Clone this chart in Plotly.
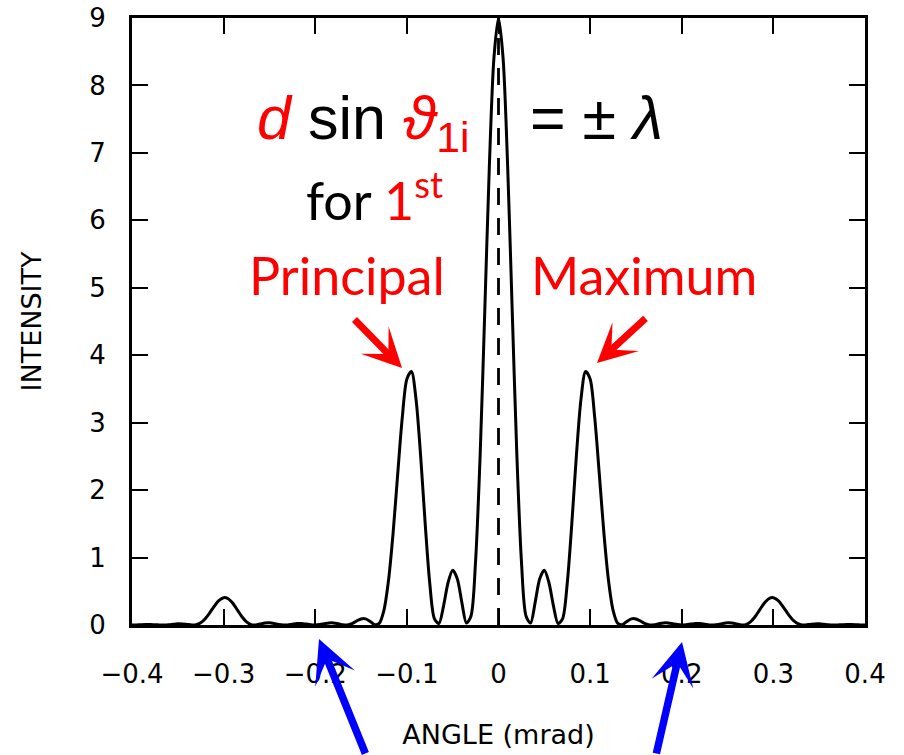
import plotly.graph_objects as go

# ---------------- data ----------------
angle_step = 0.005  # mrad between samples
# intensity for angles 0.000 ... 0.400 mrad (curve is symmetric about 0)
intensity_right = [
    9.000, 8.405, 6.798, 4.646, 2.533, 0.950, 0.135, 0.028, 0.334, 0.687,
    0.811, 0.630, 0.281, 0.022, 0.096, 0.615, 1.500, 2.510, 3.346, 3.759,
    3.648, 3.077, 2.240, 1.371, 0.667, 0.221, 0.028, 0.005, 0.052, 0.091,
    0.090, 0.058, 0.021, 0.001, 0.004, 0.019, 0.031, 0.031, 0.019, 0.006,
    0.000, 0.005, 0.015, 0.023, 0.021, 0.012, 0.002, 0.001, 0.009, 0.023,
    0.032, 0.029, 0.015, 0.001, 0.006, 0.046, 0.122, 0.223, 0.322, 0.390,
    0.405, 0.365, 0.282, 0.183, 0.094, 0.033, 0.004, 0.001, 0.009, 0.016,
    0.017, 0.011, 0.004, 0.000, 0.001, 0.004, 0.007, 0.007, 0.005, 0.001,
    0.000,
]
angles_right = [round(i * angle_step, 3) for i in range(len(intensity_right))]
angles = [-a for a in angles_right[:0:-1]] + angles_right
intensity = intensity_right[:0:-1] + intensity_right

center_angle = 0.0
x_tickvals = [-0.4, -0.3, -0.2, -0.1, 0.0, 0.1, 0.2, 0.3, 0.4]
x_ticktext = ["\u22120.4", "\u22120.3", "\u22120.2", "\u22120.1", "0", "0.1", "0.2", "0.3", "0.4"]
y_tickvals = [0, 1, 2, 3, 4, 5, 6, 7, 8, 9]
y_ticktext = [str(v) for v in y_tickvals]

RED = "#ff0000"
BLUE = "#0000ff"

fig = go.Figure()
fig.add_trace(go.Scatter(
    x=angles, y=intensity, mode="lines",
    line=dict(color="black", width=3, shape="spline", smoothing=0.8),
    hoverinfo="skip",
))
fig.add_vline(x=center_angle, line=dict(color="black", width=2.8, dash="17px,13px"))

axis_font = dict(family="DejaVu Sans", size=26, color="black")
title_font = dict(family="DejaVu Sans", size=27, color="black")

fig.update_layout(
    width=904, height=755,
    margin=dict(l=132, r=39, t=18, b=130),
    plot_bgcolor="white", paper_bgcolor="white",
    showlegend=False,
)
fig.update_xaxes(
    range=[-0.4, 0.4], tickvals=x_tickvals, ticktext=x_ticktext,
    ticks="inside", ticklen=16, tickwidth=2.4, tickcolor="black",
    showline=True, linecolor="black", linewidth=2.8, mirror="ticks",
    showgrid=False, zeroline=False, tickfont=axis_font,
    ticklabelstandoff=24, automargin=False, ticklabeloverflow="allow",
    title=dict(text="ANGLE (mrad)", font=title_font, standoff=38),
)
fig.update_yaxes(
    range=[0, 9], tickvals=y_tickvals, ticktext=y_ticktext,
    ticks="inside", ticklen=16, tickwidth=2.4, tickcolor="black",
    showline=True, linecolor="black", linewidth=2.8, mirror="ticks",
    showgrid=False, zeroline=False, tickfont=axis_font,
    ticklabelstandoff=18, automargin=False, ticklabeloverflow="allow",
    title=dict(text="INTENSITY", font=title_font, standoff=40),
)

formula_font = dict(family="Liberation Sans, DejaVu Sans", size=61, color="black")
comic_font = dict(family="Comic Sans MS, Lato", size=52, color=RED)

annotations = [
    dict(x=-0.0289, y=8.05, xref="x", yref="y", xanchor="right", yanchor="top",
         text=("<span style='color:#ff0000'><i>d</i></span> sin "
                "<span style='color:#ff0000'><i>\u03d1</i><sub>1i</sub></span>"),
         font=formula_font, showarrow=False),
    dict(x=0.0322, y=8.05, xref="x", yref="y", xanchor="left", yanchor="top",
         text="= \u00b1 <i>\u03bb</i>", font=formula_font, showarrow=False),
    dict(x=-0.1348, y=5.81, xref="x", yref="y", xanchor="center", yanchor="bottom",
         text="<span style='color:black'>for</span> 1<sup>st</sup>",
         font=comic_font, showarrow=False),
    dict(x=-0.1653, y=4.70, xref="x", yref="y", xanchor="center", yanchor="bottom",
         text="Principal", font=comic_font, showarrow=False),
    dict(x=0.1588, y=4.70, xref="x", yref="y", xanchor="center", yanchor="bottom",
         text="Maximum", font=comic_font, showarrow=False),
    # red arrows
    dict(x=-0.1053, y=3.81, xref="x", yref="y", text="", showarrow=True,
         ax=-49, ay=-50, arrowhead=3, arrowsize=0.93, arrowwidth=7, arrowcolor=RED),
    dict(x=0.1075, y=3.885, xref="x", yref="y", text="", showarrow=True,
         ax=50, ay=-46, arrowhead=3, arrowsize=0.93, arrowwidth=7, arrowcolor=RED),
    # blue arrows
    dict(x=-0.1959, y=-0.0231, xref="x", yref="paper", text="", showarrow=True,
         ax=47, ay=126, arrowhead=3, arrowsize=0.95, arrowwidth=7.5, arrowcolor=BLUE),
    dict(x=0.2003, y=-0.028, xref="x", yref="paper", text="", showarrow=True,
         ax=-26, ay=123, arrowhead=3, arrowsize=0.95, arrowwidth=7.5, arrowcolor=BLUE),
]
fig.update_layout(annotations=annotations)

fig.write_html(
    "out.html",
    config={"displayModeBar": False},
    post_script="document.body.style.margin='0';document.body.style.overflow='hidden';",
)
